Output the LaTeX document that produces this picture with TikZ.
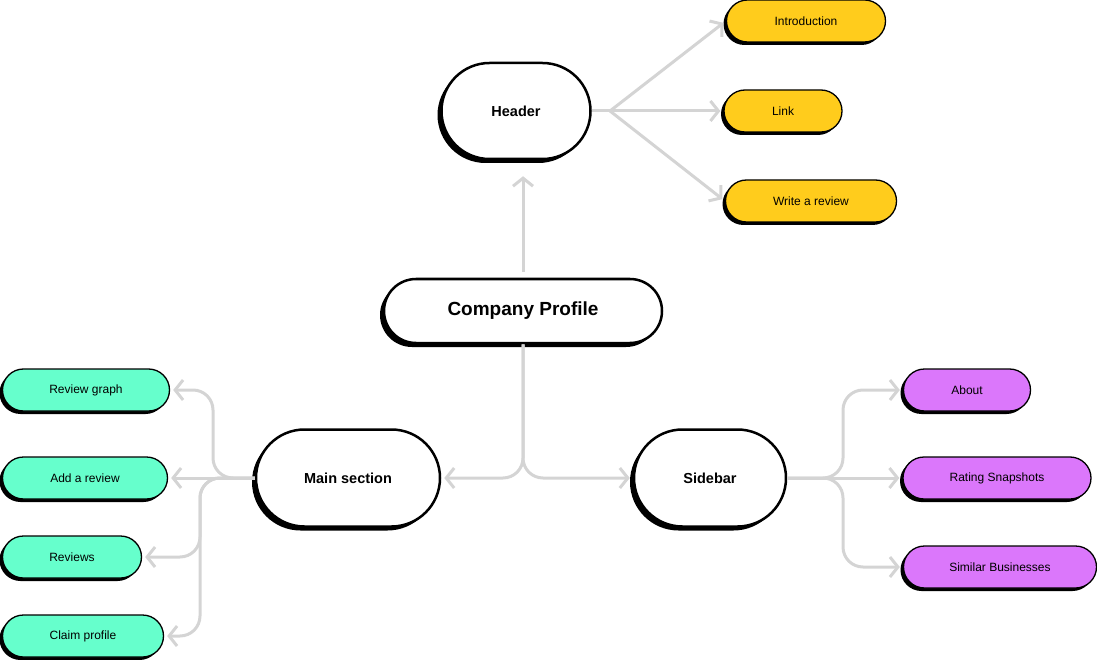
\documentclass[tikz,border=0pt]{standalone}
\usepackage{fontspec}
\setmainfont{Liberation Sans}
\usetikzlibrary{arrows.meta, shapes.misc, shadows}
\definecolor{linkgray}{HTML}{D4D4D4}
\definecolor{pillyellow}{HTML}{FFCC1C}
\definecolor{pillgreen}{HTML}{66FFCC}
\definecolor{pillpurple}{HTML}{DB77FB}

\begin{document}
\begin{tikzpicture}[x = 1pt, y = -1pt]
\tikzstyle{BigStyle}=[
shape = rounded rectangle,
draw, fill = white,
line width = 2.5pt,
inner sep = 0pt,
drop shadow = {shadow xshift = -4pt, shadow yshift = -4pt, opacity = 1, fill = black},
font = \bfseries\fontsize{14.5}{16}\selectfont]
\tikzstyle{PillStyle}=[
shape = rounded rectangle,
draw, line width = 1.3pt,
minimum height = 42pt,
inner sep = 0pt,
drop shadow = {shadow xshift = -3pt, shadow yshift = -3pt, opacity = 1, fill = black},
font = \fontsize{12}{14}\selectfont]
\tikzstyle{LinkStyle}=[
draw = linkgray, line width = 3pt,
rounded corners = 20pt,
shorten > = 3pt,
-{Straight Barb[length = 8pt, width = 20pt]}]
\useasboundingbox (0,0) rectangle (1097,660);
% main nodes
\node[BigStyle, minimum width = 278pt, minimum height = 64pt, font = \bfseries\fontsize{19}{21}\selectfont] (cp) at (523, 311) {Company Profile};
\node[BigStyle, minimum width = 149pt, minimum height = 96pt] (hdr) at (516, 111) {Header};
\node[BigStyle, minimum width = 184pt, minimum height = 97pt] (main) at (348, 478) {Main section};
\node[BigStyle, minimum width = 152pt, minimum height = 97pt] (side) at (710, 478) {Sidebar};
% header pills
\node[PillStyle, fill = pillyellow, minimum width = 159pt] (intro) at (806, 21) {Introduction};
\node[PillStyle, fill = pillyellow, minimum width = 118pt] (link) at (783, 111) {Link};
\node[PillStyle, fill = pillyellow, minimum width = 171pt] (write) at (811, 201) {Write a review};
% sidebar pills
\node[PillStyle, fill = pillpurple, minimum width = 127pt] (about) at (967, 390) {About};
\node[PillStyle, fill = pillpurple, minimum width = 188pt] (rating) at (997, 478) {Rating Snapshots};
\node[PillStyle, fill = pillpurple, minimum width = 193pt] (similar) at (1000, 567) {Similar Businesses};
% main section pills
\node[PillStyle, fill = pillgreen, minimum width = 167pt] (graph) at (86, 390) {Review graph};
\node[PillStyle, fill = pillgreen, minimum width = 165pt] (add) at (85, 478) {Add a review};
\node[PillStyle, fill = pillgreen, minimum width = 139pt] (reviews) at (72, 557) {Reviews};
\node[PillStyle, fill = pillgreen, minimum width = 161pt] (claim) at (83, 636) {Claim profile};
% branch points
\coordinate (hb) at (610, 111);
\coordinate (sb) at (843, 478);
\coordinate (ma) at (213, 478);
\coordinate (mb) at (200, 478);
% links
\draw[LinkStyle, shorten < = 6pt, shorten > = 16pt] (cp.north) -- (cp.north |- hdr.south);
\draw[draw = linkgray, line width = 3pt] (hdr.east) -- (hb);
\draw[LinkStyle] (hb) -- (intro.west);
\draw[LinkStyle] (hb) -- (link.west);
\draw[LinkStyle] (hb) -- (write.west);
\draw[LinkStyle] (cp.south) |- (main.east);
\draw[LinkStyle] (cp.south) |- (side.west);
\draw[LinkStyle] (side.east) -- (sb) |- (about.west);
\draw[LinkStyle] (side.east) -- (rating.west);
\draw[LinkStyle] (side.east) -- (sb) |- (similar.west);
\draw[LinkStyle] (main.west) -- (ma) |- (graph.east);
\draw[LinkStyle] (main.west) -- (add.east);
\draw[LinkStyle] (main.west) -- (mb) |- (reviews.east);
\draw[LinkStyle] (main.west) -- (mb) |- (claim.east);
\end{tikzpicture}
\end{document}
